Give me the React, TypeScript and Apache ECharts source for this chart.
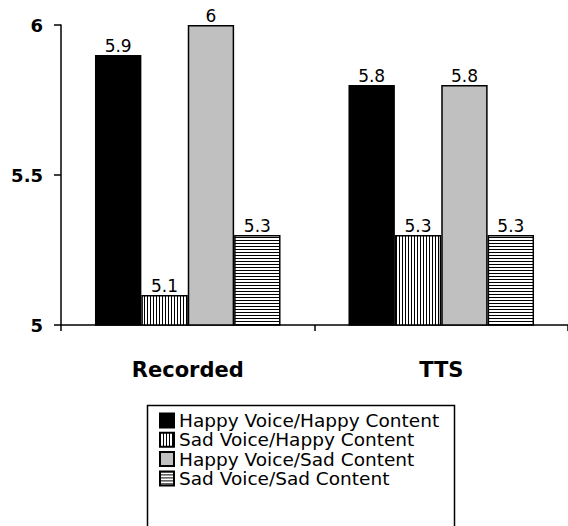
import React, { useEffect, useRef } from "react";
import * as echarts from "echarts";

const categories = ["Recorded", "TTS"];
const seriesNames = [
  "Happy Voice/Happy Content",
  "Sad Voice/Happy Content",
  "Happy Voice/Sad Content",
  "Sad Voice/Sad Content",
];
const happyVoiceHappyContent = [5.9, 5.8];
const sadVoiceHappyContent = [5.1, 5.3];
const happyVoiceSadContent = [6, 5.8];
const sadVoiceSadContent = [5.3, 5.3];

const FONT = "DejaVu Sans";

// Small tiled canvas used as a hatch fill (black lines on white)
function stripes(vertical: boolean) {
  const c = document.createElement("canvas");
  c.width = 3;
  c.height = 3;
  const ctx = c.getContext("2d")!;
  ctx.fillStyle = "#ffffff";
  ctx.fillRect(0, 0, 3, 3);
  ctx.fillStyle = "#000000";
  if (vertical) ctx.fillRect(0, 0, 1, 3);
  else ctx.fillRect(0, 0, 3, 1);
  return { image: c, repeat: "repeat", imageWidth: 3, imageHeight: 3 };
}

export default function App() {
  const ref = useRef<HTMLDivElement>(null);

  useEffect(() => {
    if (!ref.current) return;
    const chart = echarts.init(ref.current, undefined, { renderer: "svg" });

    const fills: any[] = ["#000000", stripes(true), "#c0c0c0", stripes(false)];
    const values = [
      happyVoiceHappyContent,
      sadVoiceHappyContent,
      happyVoiceSadContent,
      sadVoiceSadContent,
    ];

    chart.setOption({
      animation: false,
      textStyle: { fontFamily: FONT },
      grid: { left: 61, top: 25, bottom: 201, right: -1, containLabel: false },
      // frame around the legend, running off the bottom edge
      graphic: [
        {
          type: "rect",
          left: 145,
          top: 403,
          shape: { width: 307, height: 140 },
          style: { fill: "none", stroke: "#000", lineWidth: 1.5 },
          z: 1,
        },
      ],
      legend: {
        orient: "vertical",
        left: 159,
        top: 411,
        selectedMode: false,
        icon: "rect",
        itemWidth: 14,
        itemHeight: 14,
        itemGap: 0.3,
        padding: 0,
        textStyle: { fontFamily: FONT, fontSize: 18.5, color: "#000" },
        data: seriesNames,
      },
      xAxis: {
        type: "category",
        data: categories,
        boundaryGap: true,
        axisLine: { lineStyle: { color: "#000", width: 1.5 } },
        axisTick: { show: true, length: 6, lineStyle: { color: "#000", width: 1.5 } },
        axisLabel: {
          margin: 34,
          color: "#000",
          fontFamily: FONT,
          fontSize: 21,
          fontWeight: "bold",
        },
      },
      yAxis: {
        type: "value",
        min: 5,
        max: 6,
        interval: 0.5,
        splitLine: { show: false },
        axisLine: { show: true, lineStyle: { color: "#000", width: 1.5 } },
        axisTick: { show: true, length: 7, lineStyle: { color: "#000", width: 1.5 } },
        axisLabel: {
          margin: 18,
          color: "#000",
          fontFamily: FONT,
          fontSize: 18,
          fontWeight: "bold",
        },
      },
      series: seriesNames.map((name, i) => ({
        name,
        type: "bar",
        data: values[i],
        barGap: "0%",
        barCategoryGap: "26.8%",
        itemStyle: { color: fills[i], borderColor: "#000", borderWidth: 1.5 },
        label: {
          show: true,
          position: "top",
          distance: 1,
          color: "#000",
          fontFamily: FONT,
          fontSize: 17,
        },
      })),
    });

    return () => chart.dispose();
  }, []);

  return (
    <div
      ref={ref}
      style={{ position: "fixed", left: 0, top: 0, width: 568, height: 526, background: "#fff" }}
    />
  );
}
